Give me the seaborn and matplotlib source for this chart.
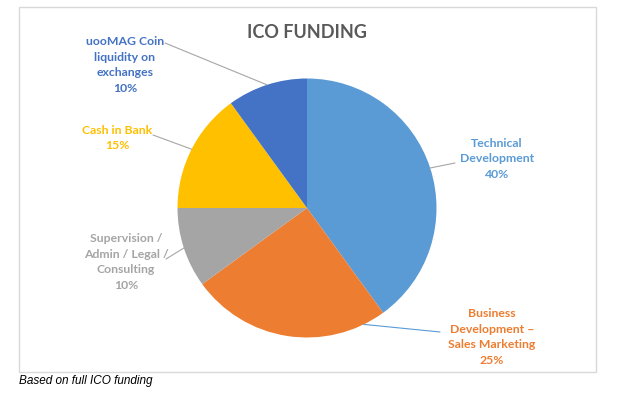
import matplotlib
matplotlib.use("Agg")
import matplotlib.pyplot as plt
import matplotlib.transforms as mtransforms
import seaborn as sns
import numpy as np

# data
categories = ["Technical\nDevelopment", "Business\nDevelopment –\nSales Marketing",
              "Supervision /\nAdmin / Legal /\nConsulting", "Cash in Bank",
              "uooMAG Coin\nliquidity on\nexchanges"]
shares = [40, 25, 10, 15, 10]
colors = ["#5B9BD5", "#ED7D31", "#A5A5A5", "#FFC000", "#4472C4"]

sns.set_theme(style="white")
plt.rcParams["font.family"] = ["Lato", "DejaVu Sans"]

W, H = 623, 398
fig = plt.figure(figsize=(W / 100, H / 100), dpi=100)
# pixel coordinates, origin at top left
px = mtransforms.Affine2D().scale(1 / W, -1 / H).translate(0, 1) + fig.transFigure

# chart frame
fig.patches.append(plt.Rectangle((19, 7), 577, 365, transform=px, fill=False,
                                 edgecolor="#D9D9D9", linewidth=1))

cx, cy, R = 307, 208, 129.5
ax = fig.add_axes([(cx - R) / W, (H - cy - R) / H, 2 * R / W, 2 * R / H])
wedges, _ = ax.pie(shares, colors=colors, startangle=90, counterclock=False,
                   wedgeprops=dict(linewidth=0))
ax.set_xlim(-1, 1)
ax.set_ylim(-1, 1)
ax.axis("off")

fig.text(cx / W, 1 - 32 / H, "ICO FUNDING", ha="center", va="center",
         fontsize=13, fontweight="bold", color="#595959")

# label positions (px) and leader line elbows
label_pos = [(497, 159), (492, 337), (126, 262), (117, 138), (125, 65)]
line_end = [(455, 163), (440, 332), (166, 259), (153, 135), (165, 43)]
edge_angle = [18, -64, 198, 153, 108]

for name, val, col, (lx, ly), (ex, ey), ang in zip(categories, shares, colors,
                                                    label_pos, line_end, edge_angle):
    fig.text(lx / W, 1 - ly / H, f"{name}\n{val}%", ha="center", va="center",
             fontsize=8.8, fontweight="bold", color=col, linespacing=1.5)
    a = np.deg2rad(ang)
    lc = "#5B9BD5" if val == 25 else "#A6A6A6"
    ax.annotate("", xy=(np.cos(a), np.sin(a)), xycoords="data",
                xytext=(ex, ey), textcoords=px,
                arrowprops=dict(arrowstyle="-", color=lc, lw=0.8,
                                shrinkA=0, shrinkB=0))

fig.text(19 / W, 1 - 381 / H, "Based on full ICO funding", ha="left", va="center",
         fontsize=8.5, style="italic", family="Liberation Sans", color="black")

fig.savefig("out.png", dpi=100)
